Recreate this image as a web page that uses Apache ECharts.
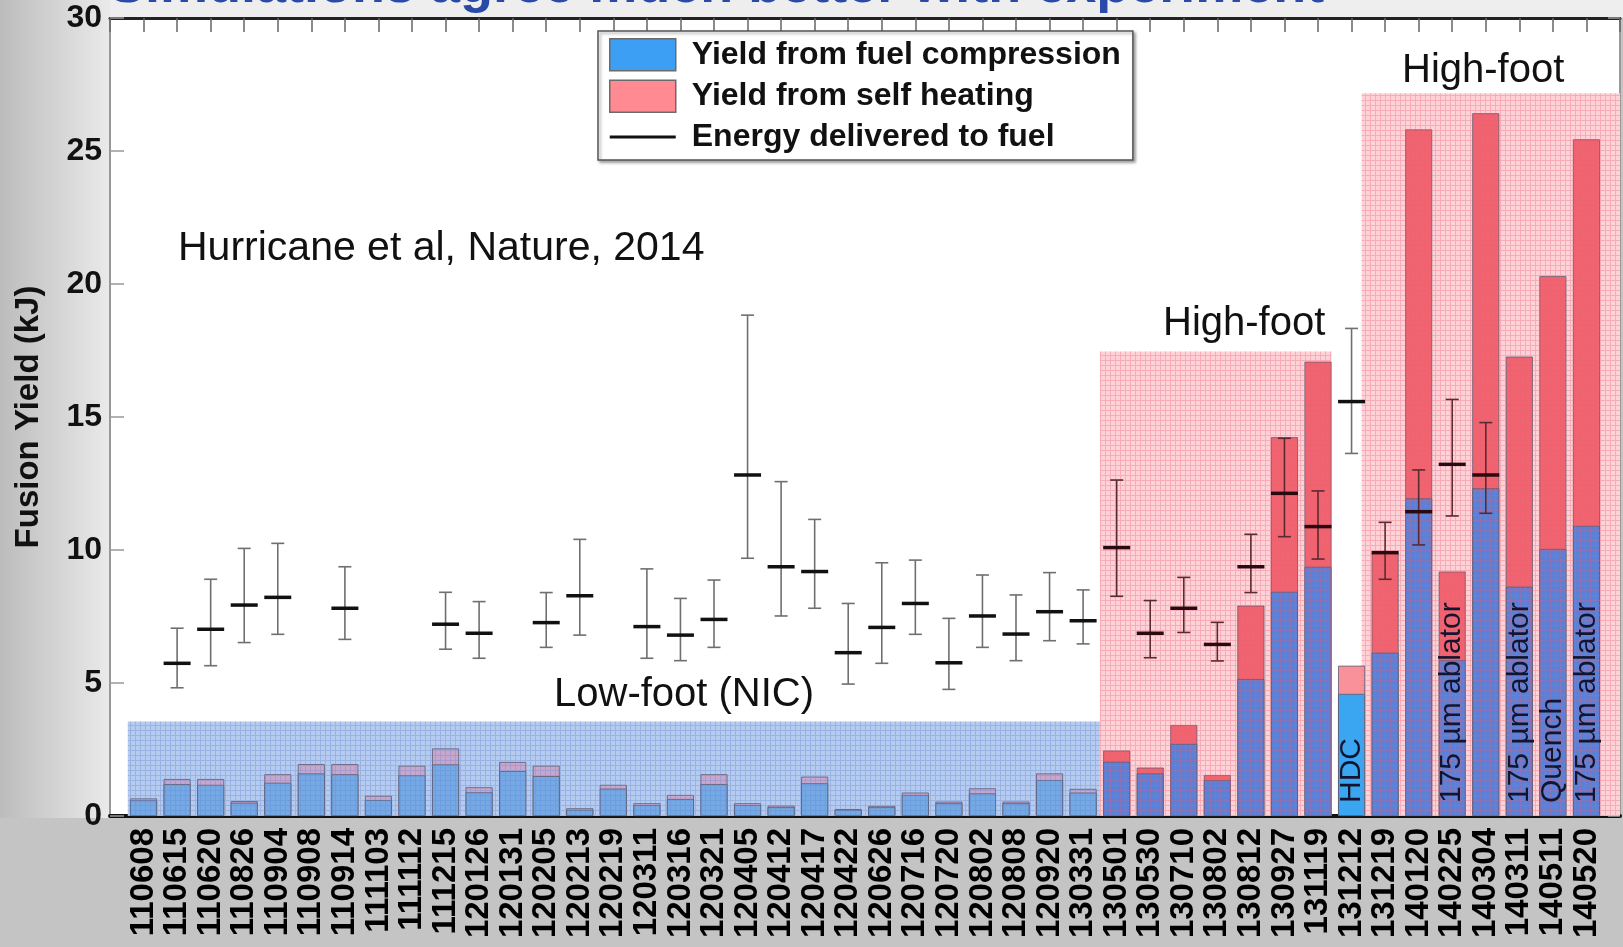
<!DOCTYPE html>
<html><head><meta charset="utf-8">
<script src="https://cdn.jsdelivr.net/npm/echarts@6/dist/echarts.min.js"></script>
<style>html,body{margin:0;padding:0;background:#c4c4c4;}#c{width:1623px;height:947px;}</style>
</head><body><div id="c"></div>
<script>
// ---- data ----
const shots = ['110608','110615','110620','110826','110904','110908','110914','111103','111112','111215',
  '120126','120131','120205','120213','120219','120311','120316','120321','120405','120412',
  '120417','120422','120626','120716','120720','120802','120808','120920','130331','130501',
  '130530','130710','130802','130812','130927','131119','131212','131219','140120','140225',
  '140304','140311','140511','140520'];
const compression = [0.59,1.20,1.17,0.50,1.25,1.60,1.57,0.60,1.53,1.94,
  0.89,1.69,1.50,0.23,1.03,0.41,0.64,1.20,0.41,0.33,
  1.23,0.23,0.33,0.79,0.48,0.85,0.48,1.35,0.88,2.04,
  1.60,2.71,1.35,5.15,8.43,9.37,4.59,6.14,11.94,5.86,
  12.32,8.62,10.04,10.91];
const selfHeating = [0.07,0.19,0.22,0.06,0.32,0.35,0.38,0.16,0.36,0.60,
  0.19,0.34,0.39,0.06,0.14,0.07,0.15,0.37,0.07,0.06,
  0.25,0.03,0.05,0.09,0.06,0.19,0.06,0.25,0.14,0.42,
  0.22,0.71,0.19,2.76,5.81,7.71,1.06,3.76,13.87,3.33,
  14.10,8.65,10.26,14.53];
const energyMid = [null,5.74,7.02,7.93,8.22,null,7.81,null,null,7.21,
  6.87,null,7.27,8.28,null,7.12,6.80,7.39,12.82,9.37,
  9.19,6.14,7.09,7.99,5.76,7.52,6.84,7.68,7.34,10.09,
  6.87,7.81,6.45,9.37,12.13,10.88,15.58,9.90,11.44,13.22,
  12.82,null,null,null];
const energyLow = [null,4.82,5.65,6.52,6.83,null,6.64,null,null,6.27,
  5.93,null,6.34,6.80,null,5.93,5.84,6.34,9.69,7.52,
  7.81,4.96,5.74,6.83,4.76,6.34,5.84,6.59,6.47,8.26,
  5.95,6.90,5.83,8.40,10.50,9.66,13.63,8.90,10.19,11.28,
  11.38,null,null,null];
const energyHigh = [null,7.06,8.90,10.06,10.25,null,9.37,null,null,8.41,
  8.06,null,8.40,10.40,null,9.29,8.18,8.87,18.83,12.57,
  11.15,7.99,9.52,9.62,7.43,9.06,8.31,9.15,8.50,12.63,
  8.10,8.97,7.28,10.59,14.20,12.22,18.33,11.04,13.01,15.66,
  14.79,null,null,null];
const noteShots = ['131212','140225','140311','140511','140520'];
const noteTexts = ['HDC','175 µm ablator','175 µm ablator','Quench','175 µm ablator'];
const regionNames = ['Low-foot (NIC)','High-foot','High-foot'];
const regionStart = [-0.47, 28.5, 36.3];
const regionEnd = [28.5, 35.4, 44];
const regionTop = [3.55, 17.46, 27.17];
const legendNames = ['Yield from fuel compression','Yield from self heating','Energy delivered to fuel'];
const titleText = 'Simulations agree much better with experiment';
const citation = 'Hurricane et al, Nature, 2014';

// ---- helpers ----
const FONT = 'Liberation Sans, Arial, sans-serif';
function pattern(bg, line, step){
  const c = document.createElement('canvas'); c.width = step; c.height = step;
  const g = c.getContext('2d');
  if (bg) { g.fillStyle = bg; g.fillRect(0,0,step,step); }
  g.fillStyle = line; g.fillRect(0,0,step,1); g.fillRect(0,1,1,step-1);
  return {image: c, repeat: 'repeat'};
}
const bgFill = ['#b5cbef', '#ffd2d7'];
const gridFill = [ pattern(null,'rgba(100,135,205,0.35)',5), pattern(null,'rgba(230,95,115,0.33)',5) ];
function regionKind(i){
  for (let r = 0; r < regionStart.length; r++) if (i > regionStart[r] && i < regionEnd[r]) return r === 0 ? 0 : 1;
  return -1;
}
const regionData = regionStart.map((s,i)=>[s, regionEnd[i], regionTop[i], i===0?0:1]);
function renderRegion(overlay){
  return function(params, api){
    const x0 = api.value(0), x1 = api.value(1), top = api.value(2), k = api.value(3);
    const p0 = api.coord([x0, top]), p1 = api.coord([x1, 0]);
    return {type:'rect', shape:{x:p0[0], y:p0[1], width:p1[0]-p0[0], height:p1[1]-p0[1]},
      style: overlay ? {fill: gridFill[k]} : {fill: bgFill[k]}};
  };
}
const errData = [];
energyMid.forEach((m,i)=>{ if (m != null) errData.push([i, energyLow[i], m, energyHigh[i]]); });
function renderErr(params, api){
  const i = api.value(0);
  const lo = api.coord([i, api.value(1)]), mid = api.coord([i, api.value(2)]), hi = api.coord([i, api.value(3)]);
  const hf = regionKind(i) === 1;
  const c = hf ? '#5a2a32' : '#6f6f6f';
  const cm = hf ? '#2a0a10' : '#111';
  const x = mid[0];
  return {type:'group', children:[
    {type:'line', shape:{x1:x, y1:lo[1], x2:x, y2:hi[1]}, style:{stroke:c, lineWidth:1.6}},
    {type:'line', shape:{x1:x-6.5, y1:lo[1], x2:x+6.5, y2:lo[1]}, style:{stroke:c, lineWidth:1.6}},
    {type:'line', shape:{x1:x-6.5, y1:hi[1], x2:x+6.5, y2:hi[1]}, style:{stroke:c, lineWidth:1.6}},
    {type:'line', shape:{x1:x-13.5, y1:mid[1], x2:x+13.5, y2:mid[1]}, style:{stroke:cm, lineWidth:3.5}}
  ]};
}
const noteData = noteShots.map((s,k)=>[shots.indexOf(s), noteTexts[k]]);
function renderNote(params, api){
  const i = api.value(0);
  const p = api.coord([i, 0]);
  return {type:'text', x:p[0], y:p[1]-13, rotation:Math.PI/2,
    style:{text: noteTexts[params.dataIndex], font:'30px ' + FONT, fill:'#14142e', align:'left', verticalAlign:'middle'}};
}
const compColor = p => { const k = regionKind(p.value[0]); return k===0 ? '#74a9e6' : (k===1 ? '#5a80d7' : '#3aa6f1'); };
const heatColor = p => { const k = regionKind(p.value[0]); return k===0 ? '#c9a6cb' : (k===1 ? '#f1646f' : '#f8919a'); };
// total height of each stacked column (compression + self heating)
const totalYield = compression.map((v,i)=>v + selfHeating[i]);

const chart = echarts.init(document.getElementById('c'), null, {renderer:'canvas'});
chart.setOption({
  animation: false,
  backgroundColor: '#c4c4c4',
  textStyle: {fontFamily: FONT},
  grid: {left:110, right:3, top:18, bottom:131, show:true, backgroundColor:'#ffffff', borderWidth:0},
  legend: {
    left: 598, top: 31, orient: 'vertical', selectedMode: false,
    itemWidth: 66, itemHeight: 32, itemGap: 8, padding: [7, 12, 7, 11],
    backgroundColor: '#ffffff', borderColor: '#555', borderWidth: 1.5,
    shadowColor: 'rgba(0,0,0,0.35)', shadowBlur: 3, shadowOffsetX: 2, shadowOffsetY: 2,
    textStyle: {fontSize: 32, fontWeight: 'bold', color: '#111', fontFamily: FONT, padding: [0,0,0,11], lineHeight: 32},
    data: [
      {name: legendNames[0], icon: 'rect', itemStyle: {color: '#3d9ff4', borderColor: '#6a6a6a', borderWidth: 1.5}},
      {name: legendNames[1], icon: 'rect', itemStyle: {color: '#ff8a92', borderColor: '#6a6a6a', borderWidth: 1.5}},
      {name: legendNames[2], icon: 'path://M0,0H66V3H0Z', itemStyle: {color: '#111'}}
    ]
  },
  xAxis: [
    {type:'value', position:'bottom', min:-1, max:44, interval:1,
      axisLine:{show:true, onZero:false, lineStyle:{color:'#111', width:4}},
      axisTick:{show:false}, splitLine:{show:false},
      axisLabel:{rotate:90, fontSize:33, fontWeight:'bold', color:'#000', margin:12, fontFamily:FONT,
        showMinLabel:true, showMaxLabel:true,
        formatter: v => shots[Math.round(v)] || ''}},
    {type:'value', position:'top', min:-1, max:44, interval:1,
      axisLine:{show:true, onZero:false, lineStyle:{color:'#222', width:3}},
      axisTick:{show:true, inside:true, length:14, lineStyle:{color:'#666', width:1.5}},
      axisLabel:{show:false}, splitLine:{show:false}}
  ],
  yAxis: [
    {type:'value', position:'left', min:0, max:30, interval:5,
      name:'Fusion Yield (kJ)', nameLocation:'middle', nameGap:65,
      nameTextStyle:{fontSize:33, fontWeight:'bold', color:'#111', fontFamily:FONT},
      axisLine:{show:true, onZero:false, lineStyle:{color:'#999', width:2}},
      axisTick:{show:true, inside:true, length:14, lineStyle:{color:'#999', width:1.5}},
      axisLabel:{fontSize:32, fontWeight:'bold', color:'#111', margin:8, fontFamily:FONT},
      splitLine:{show:false}},
    {type:'value', position:'right', min:0, max:30, interval:5,
      axisLine:{show:true, onZero:false, lineStyle:{color:'#999', width:2}},
      axisTick:{show:true, inside:true, length:12, lineStyle:{color:'#999', width:1.5}},
      axisLabel:{show:false}, splitLine:{show:false}}
  ],
  graphic: [
    {type:'rect', z:-10, shape:{x:0, y:0, width:1623, height:18}, style:{fill:'#eeeeee'}},
    {type:'rect', z:-9, shape:{x:0, y:0, width:110, height:818},
      style:{fill:new echarts.graphic.LinearGradient(0,0,1,0,[{offset:0,color:'#bcbcbc'},{offset:1,color:'#eaeaea'}])}},
    {type:'text', z:10, left:109, top:-40,
      style:{text:titleText, font:'bold 54px ' + FONT, fill:'#2a4aa8'}},
    {type:'text', z:10, x:178, y:249, style:{text:citation, font:'41px ' + FONT, fill:'#111', verticalAlign:'middle'}},
    {type:'text', z:10, x:554, y:695, style:{text:regionNames[0], font:'40px ' + FONT, fill:'#111', verticalAlign:'middle'}},
    {type:'text', z:10, x:1163, y:324, style:{text:regionNames[1], font:'40px ' + FONT, fill:'#111', verticalAlign:'middle'}},
    {type:'text', z:10, x:1402, y:71, style:{text:regionNames[2], font:'40px ' + FONT, fill:'#111', verticalAlign:'middle'}}
  ],
  series: [
    {type:'custom', name:'regions', z:1, renderItem: renderRegion(false), data: regionData, silent:true},
    {type:'bar', name:legendNames[1], z:2, barWidth:27, barGap:'-100%',
      itemStyle:{color: heatColor, borderColor:'#5c5c70', borderWidth:0.8},
      data: totalYield.map((v,i)=>[i,v])},
    {type:'bar', name:legendNames[0], z:2, barWidth:27, barGap:'-100%',
      itemStyle:{color: compColor, borderColor:'#5c5c70', borderWidth:0.8},
      data: compression.map((v,i)=>[i,v])},
    {type:'custom', name:'regionGrid', z:3, renderItem: renderRegion(true), data: regionData, silent:true},
    {type:'custom', name:legendNames[2], z:4, renderItem: renderErr, data: errData},
    {type:'custom', name:'notes', z:5, renderItem: renderNote, data: noteData}
  ]
});
</script></body></html>
